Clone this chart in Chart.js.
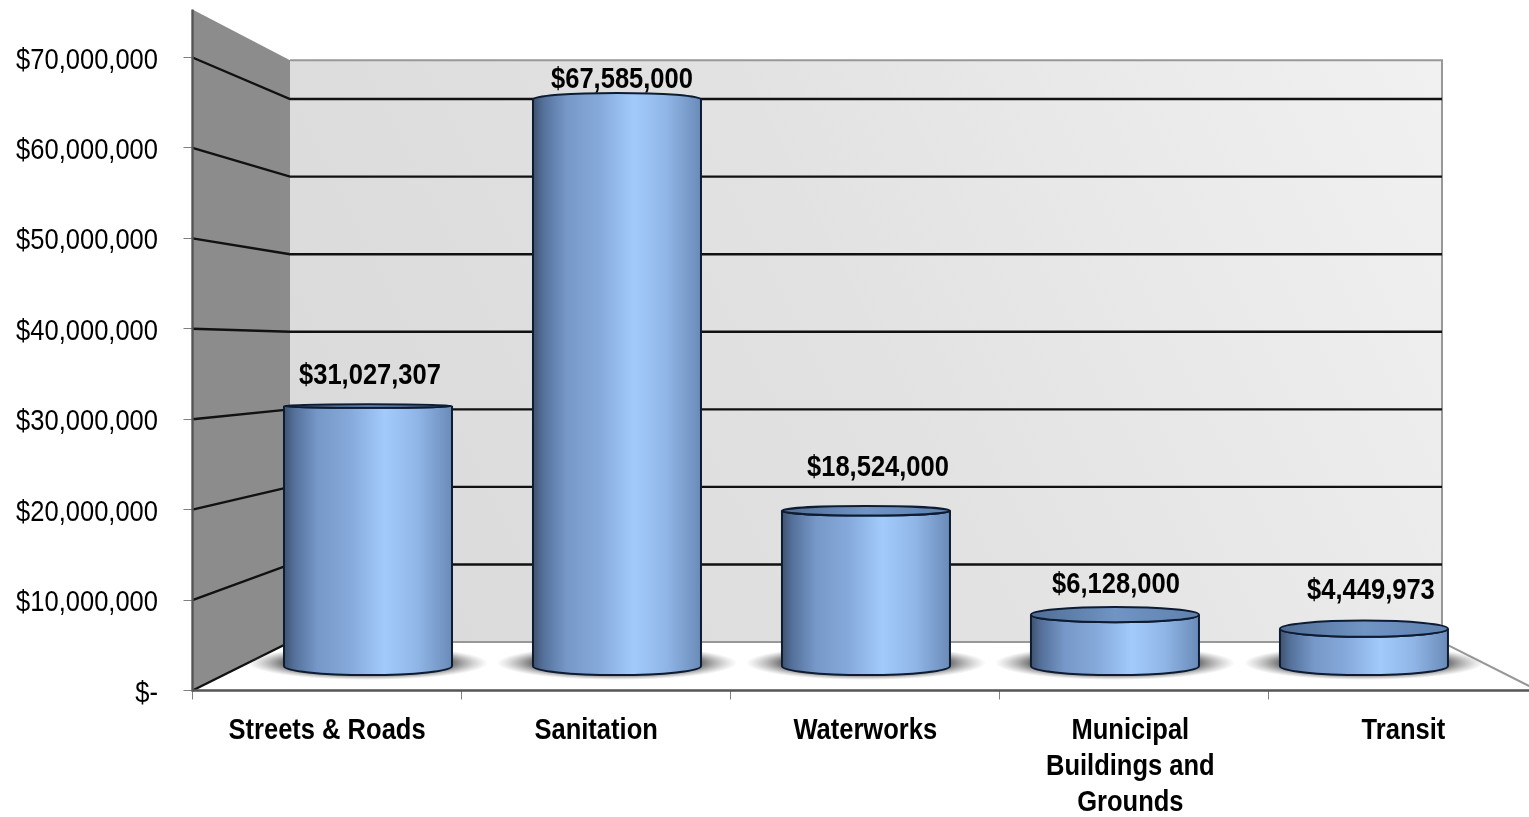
<!DOCTYPE html>
<html>
  <head>
    <style>
      html, body { margin: 0; padding: 0; background: #fff; overflow: hidden; width: 1529px; height: 817px; }
      canvas { display: block; }
    </style>
    <script src="https://cdn.jsdelivr.net/npm/chart.js@4/dist/chart.umd.min.js"></script>
    <script>

var categories = ["Streets & Roads", "Sanitation", "Waterworks", ["Municipal", "Buildings and", "Grounds"], "Transit"]
var spending = [31027307, 67585000, 18524000, 6128000, 4449973]
var tick_step = 10000000
var tick_max = 70000000

var font_family = '"Liberation Sans", Arial, sans-serif'
var text_squeeze = 0.88

// where each value label sits relative to the top of its cylinder
var label_offsets = [[2, -30], [5, -20], [12, -43], [1, -30], [7, -38]]

function money(v) {
  return v === 0 ? "$-" : "$" + v.toLocaleString("en-US")
}

// labels are narrower than the stock font, so draw them through a squeezed transform
function squeezed_text(ctx, text, x, y, align, font) {
  ctx.save()
  ctx.translate(x, y)
  ctx.scale(text_squeeze, 1)
  ctx.font = font
  ctx.fillStyle = "#000"
  ctx.textAlign = align
  ctx.textBaseline = "middle"
  ctx.fillText(text, 0, 0)
  ctx.restore()
}

// the walls, floor and grid lines of the box behind the bars
function draw_box(chart) {
  var ctx = chart.ctx
  var front = chart.scales.y
  var back = chart.scales.yBack
  var x = chart.scales.x
  var left = x.left
  var right = x.right
  var back_left = 290
  var back_right = 1442
  var front_top = 75300000
  var back_top = 75000000

  ctx.save()

  // side wall
  ctx.fillStyle = "#8c8c8c"
  ctx.beginPath()
  ctx.moveTo(left, front.getPixelForValue(front_top))
  ctx.lineTo(back_left, back.getPixelForValue(back_top))
  ctx.lineTo(back_left, back.getPixelForValue(0))
  ctx.lineTo(left, front.getPixelForValue(0))
  ctx.closePath()
  ctx.fill()

  // back wall
  var wall_y = back.getPixelForValue(back_top)
  var floor_y = back.getPixelForValue(0)
  var shade = ctx.createLinearGradient(back_left, floor_y, back_right, wall_y)
  shade.addColorStop(0, "#d9d9d9")
  shade.addColorStop(0.5, "#e2e2e2")
  shade.addColorStop(1, "#f1f1f1")
  ctx.fillStyle = shade
  ctx.fillRect(back_left, wall_y, back_right - back_left, floor_y - wall_y)

  // back wall outline and right floor edge
  ctx.strokeStyle = "#989898"
  ctx.lineWidth = 2
  ctx.beginPath()
  ctx.moveTo(back_left, wall_y)
  ctx.lineTo(back_right, wall_y)
  ctx.lineTo(back_right, floor_y)
  ctx.lineTo(back_left, floor_y)
  ctx.moveTo(back_right, floor_y)
  ctx.lineTo(right, front.getPixelForValue(0))
  ctx.stroke()

  // grid lines bend where the side wall meets the back wall
  ctx.strokeStyle = "#111"
  ctx.lineWidth = 2.4
  front.ticks.forEach(function (tick) {
    ctx.beginPath()
    ctx.moveTo(left, front.getPixelForValue(tick.value))
    ctx.lineTo(back_left, back.getPixelForValue(tick.value))
    if (tick.value > 0) {
      ctx.lineTo(back_right, back.getPixelForValue(tick.value))
    }
    ctx.stroke()
  })

  // front edges
  ctx.strokeStyle = "#555"
  ctx.lineWidth = 2.4
  ctx.beginPath()
  ctx.moveTo(left, front.getPixelForValue(front_top))
  ctx.lineTo(left, front.getPixelForValue(0))
  ctx.lineTo(right, front.getPixelForValue(0))
  ctx.stroke()

  ctx.restore()
}

function tilt(y) {
  // ellipses flatten towards eye level and flip above it
  return (y - 340) * 0.028
}

function draw_shadow(ctx, bar) {
  var cy = bar.base - 3
  ctx.save()
  ctx.translate(bar.x, cy)
  ctx.scale(120, 17)
  var glow = ctx.createRadialGradient(0, 0, 0, 0, 0, 1)
  glow.addColorStop(0, "rgba(60,60,60,0.95)")
  glow.addColorStop(0.7, "rgba(75,75,75,0.8)")
  glow.addColorStop(1, "rgba(140,140,140,0)")
  ctx.fillStyle = glow
  ctx.beginPath()
  ctx.arc(0, 0, 1, 0, Math.PI * 2)
  ctx.fill()
  ctx.restore()
}

function draw_cylinder(ctx, bar) {
  var rx = bar.width / 2
  var l = bar.x - rx
  var r = bar.x + rx
  var top = bar.y
  var bottom = bar.base
  var rb = tilt(bottom)
  var rt = tilt(top)

  var body = ctx.createLinearGradient(l, 0, r, 0)
  body.addColorStop(0, "#3f526e")
  body.addColorStop(0.06, "#54709a")
  body.addColorStop(0.2, "#7698c8")
  body.addColorStop(0.4, "#86aadb")
  body.addColorStop(0.6, "#a2cbfb")
  body.addColorStop(0.8, "#8fb5e6")
  body.addColorStop(1, "#6a8bb8")

  ctx.save()
  ctx.beginPath()
  ctx.moveTo(l, top)
  ctx.lineTo(l, bottom)
  ctx.ellipse(bar.x, bottom, rx, rb, 0, Math.PI, 0, true)
  ctx.lineTo(r, top)
  if (rt > 0) {
    ctx.ellipse(bar.x, top, rx, rt, 0, 0, Math.PI, false)
  } else {
    ctx.ellipse(bar.x, top, rx, -rt, 0, 0, Math.PI, true)
  }
  ctx.closePath()
  ctx.fillStyle = body
  ctx.fill()
  ctx.lineWidth = 2
  ctx.strokeStyle = "#0e1c33"
  ctx.stroke()

  if (rt > 0) {
    var cap = ctx.createLinearGradient(l, 0, r, 0)
    cap.addColorStop(0, "#4f6c93")
    cap.addColorStop(0.5, "#7094c4")
    cap.addColorStop(1, "#5f81ae")
    ctx.beginPath()
    ctx.ellipse(bar.x, top, rx, rt, 0, 0, Math.PI * 2)
    ctx.fillStyle = cap
    ctx.fill()
    ctx.stroke()
  }
  ctx.restore()
}

var cylinder_plugin = {
  id: "cylinders",
  beforeDatasetsDraw: function (chart) {
    draw_box(chart)
    var bars = chart.getDatasetMeta(0).data
    bars.forEach(function (bar) { draw_shadow(chart.ctx, bar) })
  },
  afterDatasetsDraw: function (chart) {
    var ctx = chart.ctx
    var bars = chart.getDatasetMeta(0).data
    bars.forEach(function (bar) { draw_cylinder(ctx, bar) })

    var bold = "bold 29px " + font_family
    bars.forEach(function (bar, i) {
      var off = label_offsets[i]
      squeezed_text(ctx, money(spending[i]), bar.x + off[0], bar.y + off[1], "center", bold)
    })

    // axis labels
    var y = chart.scales.y
    y.ticks.forEach(function (tick) {
      squeezed_text(ctx, tick.label, 158, y.getPixelForValue(tick.value) + 3, "right", "29px " + font_family)
    })
    var x = chart.scales.x
    x.ticks.forEach(function (tick, i) {
      var lines = [].concat(tick.label)
      // the wrapped label sits a little left of its slot
      var nudge = lines.length > 1 ? -4 : 0
      lines.forEach(function (line, n) {
        squeezed_text(ctx, line, x.getPixelForTick(i) + nudge, 731 + n * 36, "center", bold)
      })
    })
  }
}

window.onload = function () {
  var ctx = document.getElementById("spending").getContext("2d")
  new Chart(ctx, {
    type: "bar",
    data: {
      labels: categories,
      datasets: [{
        data: spending.map(function (v, i) { return { x: i, y: v } }),
        xAxisID: "xBars",
        yAxisID: "yBars",
        barThickness: 168,
        backgroundColor: "transparent",
        borderWidth: 0
      }]
    },
    options: {
      responsive: false,
      animation: false,
      layout: { padding: { left: 183.5, top: 57.5, right: 22, bottom: 117.5 } },
      plugins: { legend: { display: false }, tooltip: { enabled: false } },
      scales: {
        x: {
          type: "category",
          offset: true,
          border: { display: false },
          grid: { offset: true, drawOnChartArea: false, tickLength: 9, color: "#808080" },
          ticks: { display: false, autoSkip: false, maxRotation: 0 }
        },
        y: {
          type: "linear",
          min: 0,
          max: tick_max,
          border: { display: false },
          grid: { drawOnChartArea: false, tickLength: 9, color: "#808080" },
          ticks: { display: false, stepSize: tick_step, callback: money }
        },
        // the bars stand in the middle of the box, so they get their own mapping
        xBars: { type: "linear", display: false, offset: false, grid: { offset: false }, min: -0.7048, max: 4.699 },
        yBars: { type: "linear", display: false, min: -2924000, max: 72610000 },
        // gridlines on the back wall
        yBack: { type: "linear", display: false, min: -6250000, max: 75360000 }
      }
    },
    plugins: [cylinder_plugin]
  })
}

    </script>
  </head>
  <body>
    <canvas id="spending" width="1560" height="817"></canvas>
  </body>
</html>
